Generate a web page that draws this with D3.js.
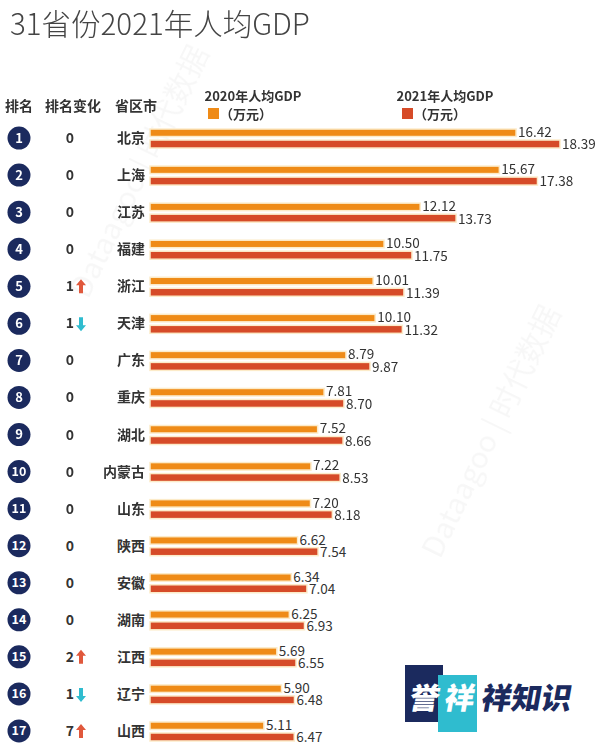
<!DOCTYPE html>
<html>
<head>
<meta charset="utf-8">
<script src="https://cdn.jsdelivr.net/npm/d3@7/dist/d3.min.js"></script>
<style>
html,body{margin:0;padding:0;background:#fff;}
svg{display:block;}
text{font-family:"Noto Sans CJK SC","Noto Sans",sans-serif;}
</style>
</head>
<body>
<svg id="chart" width="600" height="743"></svg>
<script>
const ranks = [1,2,3,4,5,6,7,8,9,10,11,12,13,14,15,16,17];
const provinces = ["北京","上海","江苏","福建","浙江","天津","广东","重庆","湖北","内蒙古","山东","陕西","安徽","湖南","江西","辽宁","山西"];
const rankChange = [0,0,0,0,1,1,0,0,0,0,0,0,0,0,2,1,7];
const changeDir = ["","","","","up","down","","","","","","","","","up","down","up"];
const gdp2020 = [16.42,15.67,12.12,10.50,10.01,10.10,8.79,7.81,7.52,7.22,7.20,6.62,6.34,6.25,5.69,5.90,5.11];
const gdp2021 = [18.39,17.38,13.73,11.75,11.39,11.32,9.87,8.70,8.66,8.53,8.18,7.54,7.04,6.93,6.55,6.48,6.47];
const seriesNames = ["2020年人均GDP","2021年人均GDP"];
const unitLabel = "（万元）";
const headers = ["排名","排名变化","省区市"];
const title = "31省份2021年人均GDP";

const C_ORANGE = "#ef8b17", C_RED = "#d64b28", C_NAVY = "#1b2a5e", C_CYAN = "#2fbccf", C_TEXT = "#333";

const svg = d3.select("#chart");

// watermark (very faint)
const wm = svg.append("g").attr("fill","#000").attr("opacity",0.035)
  .attr("font-family","Liberation Serif, serif").attr("font-size",30);
wm.append("text").attr("transform","translate(88,300) rotate(-64)").text("Dataagoo | 时代数据");
wm.append("text").attr("transform","translate(440,560) rotate(-64)").text("Dataagoo | 时代数据");

// title
svg.append("text").attr("x",10).attr("y",35).attr("font-size",29.5).attr("font-weight",300)
  .attr("fill","#444").text(title);

// headers
const hx = [5,45,115];
headers.forEach((h,i)=>{
  svg.append("text").attr("x",hx[i]).attr("y",111).attr("font-size",14).attr("font-weight",700)
    .attr("fill",C_TEXT).text(h);
});

// legend
const legend = [{cx:253, sq:208, color:C_ORANGE},{cx:445, sq:402, color:C_RED}];
legend.forEach((l,i)=>{
  svg.append("text").attr("x",l.cx).attr("y",101).attr("text-anchor","middle").attr("font-size",13)
    .attr("font-weight",700).attr("fill",C_TEXT).text(seriesNames[i]);
  svg.append("rect").attr("x",l.sq).attr("y",108).attr("width",11).attr("height",11).attr("fill",l.color);
  svg.append("text").attr("x",l.sq+12).attr("y",119).attr("font-size",13)
    .attr("font-weight",700).attr("fill",C_TEXT).text(unitLabel);
});

// scales
const y = d3.scaleBand().domain(ranks).range([119.5, 119.5 + 17*37.06]).padding(0);
const x = d3.scaleLinear().domain([0, 18.39]).range([150, 560]);

const rows = ranks.map((r,i)=>({rank:r, prov:provinces[i], chg:rankChange[i], dir:changeDir[i], a:gdp2020[i], b:gdp2021[i]}));

const g = svg.append("g");
const row = g.selectAll("g.row").data(rows).join("g").attr("class","row")
  .attr("transform", d=>`translate(0,${y(d.rank)+y.bandwidth()/2})`);

// rank circles
row.append("circle").attr("cx",19).attr("cy",0).attr("r",11.5).attr("fill",C_NAVY);
row.append("text").attr("x",19).attr("y",0).attr("dy","0.36em").attr("text-anchor","middle")
  .attr("font-size",d=>d.rank>=10?12.5:13).attr("font-weight",700).attr("fill","#fff").text(d=>d.rank);

// rank change
row.append("text").attr("x",70).attr("y",0).attr("dy","0.36em").attr("text-anchor","middle")
  .attr("font-size",14).attr("font-weight",700).attr("fill",C_TEXT).text(d=>d.chg);
row.filter(d=>d.dir==="up").append("path")
  .attr("d","M81,-7 L86,-1 L83,-1 L83,7 L79,7 L79,-1 L76,-1 Z").attr("fill","#e0583c");
row.filter(d=>d.dir==="down").append("path")
  .attr("d","M81,8 L86,2 L83,2 L83,-6 L79,-6 L79,2 L76,2 Z").attr("fill",C_CYAN);

// province
row.append("text").attr("x",145).attr("y",0).attr("dy","0.36em").attr("text-anchor","end")
  .attr("font-size",14).attr("font-weight",700).attr("fill",C_TEXT).text(d=>d.prov);

// bars
row.append("rect").attr("x",x(0)).attr("y",-9).attr("height",7.5).attr("width",d=>x(d.a)-x(0))
  .attr("fill",C_ORANGE).attr("stroke","#fcebc9").attr("stroke-width",1.5);
row.append("rect").attr("x",x(0)).attr("y",2).attr("height",8).attr("width",d=>x(d.b)-x(0))
  .attr("fill",C_RED).attr("stroke","#fcebc9").attr("stroke-width",1.5);

// value labels
row.append("text").attr("x",d=>x(d.a)+2).attr("y",-6).attr("dy","0.36em").attr("font-size",13.5)
  .attr("fill",C_TEXT).text(d=>d.a.toFixed(2));
row.append("text").attr("x",d=>x(d.b)+2).attr("y",6.5).attr("dy","0.36em").attr("font-size",13.5)
  .attr("fill",C_TEXT).text(d=>d.b.toFixed(2));

// logo
const logo = svg.append("g");
logo.append("rect").attr("x",400).attr("y",660).attr("width",185).attr("height",78).attr("fill","#fff");
logo.append("rect").attr("x",405).attr("y",665).attr("width",38).attr("height",57).attr("fill",C_NAVY);
logo.append("rect").attr("x",438).attr("y",675).attr("width",39).attr("height",57).attr("fill",C_CYAN);
const lt = logo.append("g").attr("font-size",30).attr("font-weight",900);
lt.append("text").attr("transform","translate(423,709) skewX(-10)").attr("text-anchor","middle").attr("fill","#fff").text("誉");
lt.append("text").attr("transform","translate(458,709) skewX(-10)").attr("text-anchor","middle").attr("fill","#fff").text("祥");
lt.append("text").attr("transform","translate(480,709) skewX(-10)").attr("fill",C_NAVY).text("祥知识");
</script>
</body>
</html>
